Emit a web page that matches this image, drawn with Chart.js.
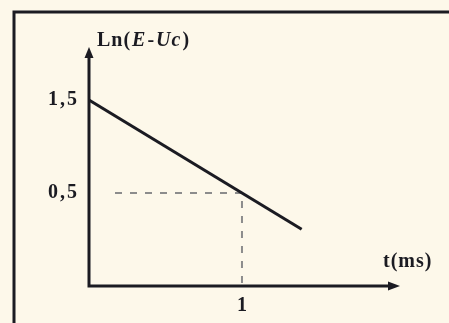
<!DOCTYPE html>
<html>
<head>
<meta charset="utf-8">
<script src="https://cdn.jsdelivr.net/npm/chart.js@4/dist/chart.umd.min.js"></script>
<style>
  html, body { margin: 0; padding: 0; background: #fdf8ea; }
  canvas { display: block; }
</style>
</head>
<body>
<canvas id="graph" width="449" height="323"></canvas>
<script>
// line Ln(E-Uc) = f(t)
const tValues = [0, 1.39];
const lnValues = [1.5, 0.11];

// dashed reading guides
const guideT = [0.17, 1, 1];
const guideLn = [0.5, 0.5, -0.5];

// tick labels (french decimal comma)
const yTickValues = [1.5, 0.5];
const yTickLabels = ["1,5", "0,5"];
const xTickValues = [1];
const xTickLabels = ["1"];

const ink = "#1b1b22";
const serif = "'Liberation Serif', 'DejaVu Serif', serif";

// draw text made of runs (some italic)
function drawRuns(ctx, runs, x, y, size, gap) {
  let cx = x;
  runs.forEach((r) => {
    ctx.font = (r.italic ? "italic " : "") + "bold " + size + "px " + serif;
    ctx.fillText(r.text, cx, y);
    cx += ctx.measureText(r.text).width + gap;
  });
}

const sketchAxes = {
  id: "sketchAxes",
  beforeDraw(chart) {
    const ctx = chart.ctx;
    ctx.save();
    ctx.fillStyle = "#fdf8ea";
    ctx.fillRect(0, 0, chart.width, chart.height);
    // frame of the figure
    ctx.strokeStyle = ink;
    ctx.lineWidth = 3;
    ctx.beginPath();
    ctx.moveTo(14, chart.height);
    ctx.lineTo(14, 12);
    ctx.lineTo(chart.width, 12);
    ctx.stroke();
    ctx.restore();
  },
  afterDatasetsDraw(chart) {
    const ctx = chart.ctx;
    const a = chart.chartArea;
    const xs = chart.scales.x;
    const ys = chart.scales.y;
    ctx.save();
    ctx.strokeStyle = ink;
    ctx.fillStyle = ink;
    ctx.lineWidth = 3;

    // axes
    ctx.beginPath();
    ctx.moveTo(a.left, a.top + 8);
    ctx.lineTo(a.left, a.bottom);
    ctx.lineTo(a.right - 8, a.bottom);
    ctx.stroke();

    // arrow heads
    ctx.beginPath();
    ctx.moveTo(a.left, a.top);
    ctx.lineTo(a.left - 4.5, a.top + 11);
    ctx.lineTo(a.left + 4.5, a.top + 11);
    ctx.closePath();
    ctx.fill();
    ctx.beginPath();
    ctx.moveTo(a.right, a.bottom);
    ctx.lineTo(a.right - 12, a.bottom - 4.5);
    ctx.lineTo(a.right - 12, a.bottom + 4.5);
    ctx.closePath();
    ctx.fill();

    // tick labels
    ctx.font = "bold 20px " + serif;
    ctx.letterSpacing = "2px";
    ctx.textBaseline = "middle";
    ctx.textAlign = "right";
    yTickValues.forEach((v, i) => {
      ctx.fillText(yTickLabels[i], a.left - 10, ys.getPixelForValue(v));
    });
    ctx.textAlign = "center";
    xTickValues.forEach((v, i) => {
      ctx.fillText(xTickLabels[i], xs.getPixelForValue(v) + 1, a.bottom + 20);
    });

    // axis titles
    ctx.textAlign = "left";
    ctx.letterSpacing = "1px";
    drawRuns(ctx, [
      { text: "Ln(" },
      { text: "E", italic: true },
      { text: "-" },
      { text: "Uc", italic: true },
      { text: ")" },
    ], a.left + 8, a.top - 6, 20, 1);
    ctx.font = "bold 20px " + serif;
    ctx.fillText("t(ms)", a.right - 17, a.bottom - 24);
    ctx.restore();
  },
};

new Chart(document.getElementById("graph"), {
  type: "scatter",
  data: {
    datasets: [
      {
        data: tValues.map((t, i) => ({ x: t, y: lnValues[i] })),
        showLine: true,
        borderColor: ink,
        borderWidth: 3,
        pointRadius: 0,
      },
      {
        data: guideT.map((t, i) => ({ x: t, y: guideLn[i] })),
        showLine: true,
        borderColor: "#8c8c8c",
        borderWidth: 2,
        borderDash: [7, 8],
        pointRadius: 0,
      },
    ],
  },
  options: {
    responsive: false,
    animation: false,
    devicePixelRatio: 1,
    layout: { padding: { left: 89, right: 49, top: 47, bottom: 37 } },
    scales: {
      x: { type: "linear", min: 0, max: 2.033, display: false },
      y: { type: "linear", min: -0.5, max: 2.07, display: false },
    },
    plugins: {
      legend: { display: false },
      tooltip: { enabled: false },
    },
  },
  plugins: [sketchAxes],
});
</script>
</body>
</html>
